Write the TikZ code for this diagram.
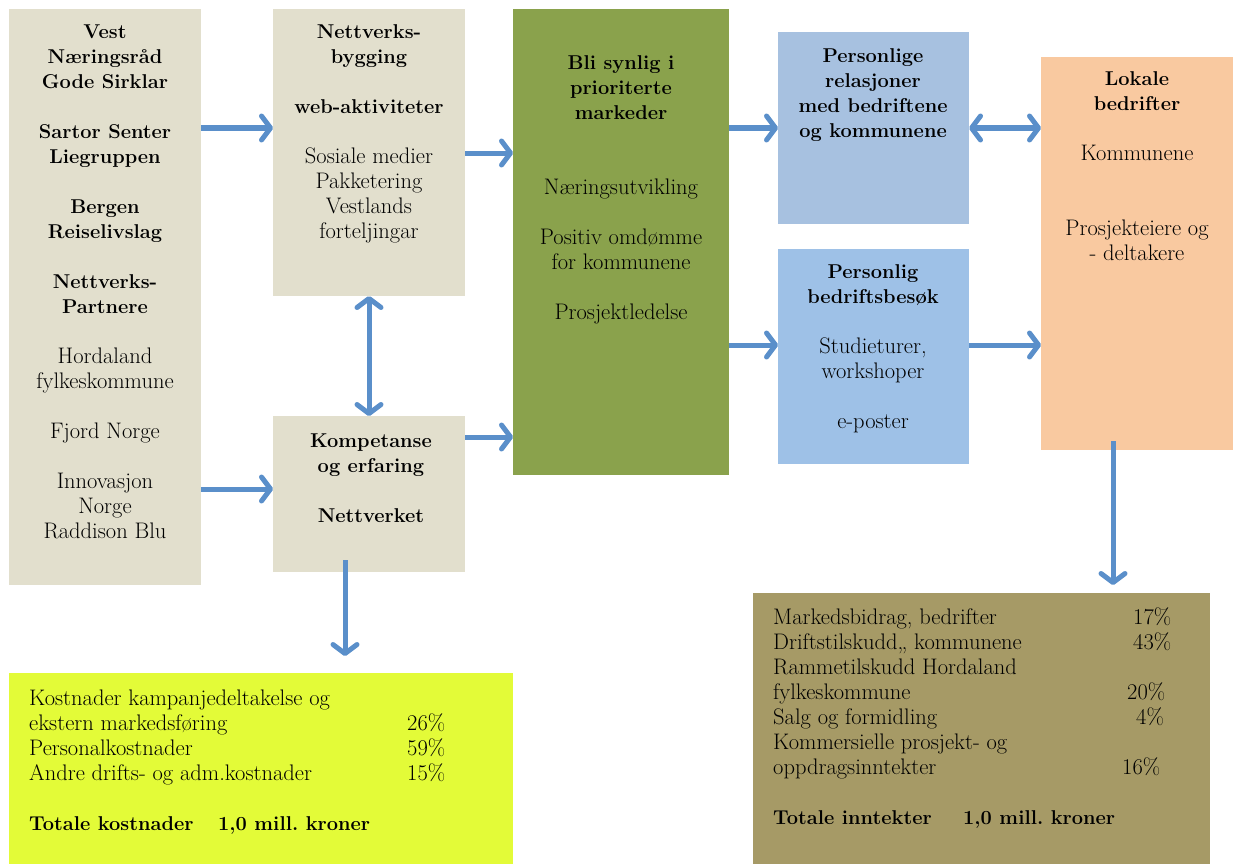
\documentclass[tikz,border=0pt]{standalone}
\usepackage{fontspec}
\usetikzlibrary{arrows.meta,calc}
\definecolor{tanbg}{RGB}{226,223,205}
\definecolor{olivegreen}{RGB}{138,162,76}
\definecolor{relblue}{RGB}{167,193,224}
\definecolor{visitblue}{RGB}{158,193,231}
\definecolor{peach}{RGB}{249,201,160}
\definecolor{limeyellow}{RGB}{227,251,56}
\definecolor{khaki}{RGB}{166,154,102}
\definecolor{arrowblue}{RGB}{90,143,202}
\newcommand{\hd}[1]{{\fontsize{20}{25}\selectfont\bfseries #1}}
\frenchspacing

\begin{document}
\begin{tikzpicture}[x=1pt,y=-1pt,
	box/.style={anchor=north west,inner sep=0pt,outer sep=0pt},
	txt/.style={anchor=north,align=center,inner sep=0pt,font=\fontsize{22.5}{25}\selectfont},
	tab/.style={anchor=north west,align=left,inner sep=0pt,font=\fontsize{22.5}{25}\selectfont},
	flow/.style={draw=arrowblue,line width=5pt,-{Straight Barb[length=9pt,width=24pt,round]}},
	both/.style={flow,{Straight Barb[length=9pt,width=24pt,round]}-{Straight Barb[length=9pt,width=24pt,round]}}]
	\useasboundingbox (0,0) rectangle (1233,864);
	% boxes
	\node[box,fill=tanbg,minimum width=192pt,minimum height=576pt] (vest) at (9,9) {};
	\node[box,fill=tanbg,minimum width=192pt,minimum height=287pt] (nett) at (273,9) {};
	\node[box,fill=tanbg,minimum width=192pt,minimum height=156pt] (komp) at (273,416) {};
	\node[box,fill=olivegreen,minimum width=216pt,minimum height=466pt] (synlig) at (513,9) {};
	\node[box,fill=relblue,minimum width=191pt,minimum height=192pt] (rel) at (778,32) {};
	\node[box,fill=visitblue,minimum width=191pt,minimum height=215pt] (besok) at (778,249) {};
	\node[box,fill=peach,minimum width=192pt,minimum height=393pt] (lokale) at (1041,57) {};
	\node[box,fill=limeyellow,minimum width=504pt,minimum height=191pt] (kost) at (9,673) {};
	\node[box,fill=khaki,minimum width=457pt,minimum height=271pt] (innt) at (753,593) {};
	% texts
	\node[txt] (vest-txt) at (105,20.5) {\strut\hd{Vest}\\ \hd{Næringsråd}\\ \hd{Gode Sirklar}\\[25pt]
		\hd{Sartor Senter}\\ \hd{Liegruppen}\\[25pt] \hd{Bergen}\\ \hd{Reiselivslag}\\[25pt]
		\hd{Nettverks-}\\ \hd{Partnere}\\[25pt] Hordaland\\ fylkeskommune\\[25pt] Fjord Norge\\[25pt]
		Innovasjon\\ Norge\\ Raddison Blu};
	\node[txt] (nett-txt) at (369,20.5) {\strut\hd{Nettverks-}\\ \hd{bygging}\\[25pt] \hd{web-aktiviteter}\\[25pt]
		Sosiale medier\\ Pakketering\\ Vestlands\\ forteljingar};
	\node[txt] (komp-txt) at (371,429.5) {\strut\hd{Kompetanse}\\ \hd{og erfaring}\\[25pt] \hd{Nettverket}};
	\node[txt] (synlig-txt) at (621,51.5) {\strut\hd{Bli synlig i}\\ \hd{prioriterte}\\ \hd{markeder}\\[50pt]
		Næringsutvikling\\[25pt] Positiv omdømme\\ for kommunene\\[25pt] Prosjektledelse};
	\node[txt] (rel-txt) at (873,44.5) {\strut\hd{Personlige}\\ \hd{relasjoner}\\ \hd{med bedriftene}\\ \hd{og kommunene}};
	\node[txt] (besok-txt) at (873,260.5) {\strut\hd{Personlig}\\ \hd{bedriftsbesøk}\\[25pt] Studieturer,\\ workshoper\\[25pt] e-poster};
	\node[txt] (lokale-txt) at (1137,67.5) {\strut\hd{Lokale}\\ \hd{bedrifter}\\[25pt] Kommunene\\[50pt] Prosjekteiere og\\ - deltakere};
	\node[tab] (kost-txt) at (29,687.5) {\strut Kostnader kampanjedeltakelse og\\
		\makebox[378pt][l]{ekstern markedsføring}26\%\\
		\makebox[378pt][l]{Personalkostnader}59\%\\
		\makebox[378pt][l]{Andre drifts- og adm.kostnader}15\%\\[25pt]
		\hd{\makebox[189pt][l]{Totale kostnader}1,0 mill. kroner}};
	\node[tab] (innt-txt) at (773,606.5) {\strut\makebox[360pt][l]{Markedsbidrag, bedrifter}17\%\\
		\makebox[360pt][l]{Driftstilskudd,, kommunene}43\%\\
		Rammetilskudd Hordaland\\
		\makebox[354pt][l]{fylkeskommune}20\%\\
		\makebox[363pt][l]{Salg og formidling}4\%\\
		Kommersielle prosjekt- og\\
		\makebox[349pt][l]{oppdragsinntekter}16\%\\[25pt]
		\hd{\makebox[190pt][l]{Totale inntekter}1,0 mill. kroner}};
	% connectors
	\draw[flow] (vest.east |- 0,128) -- (nett.west |- 0,128);
	\draw[flow] (vest.east |- 0,489) -- (komp.west |- 0,489);
	\draw[flow] (nett.east |- 0,153) -- (synlig.west |- 0,153);
	\draw[flow] (komp.east |- 0,437) -- (synlig.west |- 0,437);
	\draw[both] (nett.south -| 369,0) -- (komp.north -| 369,0);
	\draw[flow] ($(komp.south -| 345,0)+(0,-12)$) -- ($(kost.north -| 345,0)+(0,-17)$);
	\draw[flow] (synlig.east |- 0,128) -- (rel.west |- 0,128);
	\draw[flow] (synlig.east |- 0,345) -- (besok.west |- 0,345);
	\draw[both] (rel.east |- 0,128) -- (lokale.west |- 0,128);
	\draw[flow] (besok.east |- 0,345) -- (lokale.west |- 0,345);
	\draw[flow] ($(lokale.south -| 1113,0)+(0,-9)$) -- ($(innt.north -| 1113,0)+(0,-8)$);
\end{tikzpicture}
\end{document}
